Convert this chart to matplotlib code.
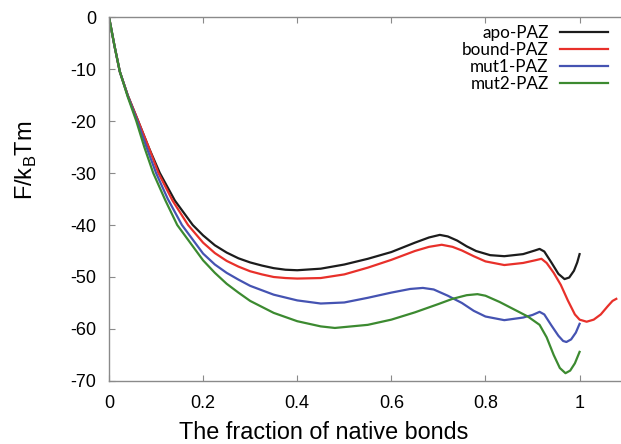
import numpy as np
import matplotlib
matplotlib.use('Agg')
import matplotlib.pyplot as plt

#--------------------------------------------------------------------------------------------------------------------------------
# Data
#--------------------------------------------------------------------------------------------------------------------------------

series_names = ['apo-PAZ', 'bound-PAZ', 'mut1-PAZ', 'mut2-PAZ']

apo_x = [0, 0.012, 0.023, 0.04, 0.062, 0.085, 0.108, 0.14, 0.178, 0.2, 0.225, 0.25, 0.275, 0.3, 0.325, 0.35,
         0.375, 0.4, 0.45, 0.5, 0.55, 0.6, 0.65, 0.68, 0.703, 0.72, 0.74, 0.76, 0.78, 0.81, 0.84, 0.88, 0.905,
         0.915, 0.925, 0.94, 0.955, 0.968, 0.978, 0.988, 0.995, 1.0]
apo_y = [0, -5.7, -10.5, -15.1, -20, -25.2, -30, -35.3, -40, -42, -43.9, -45.3, -46.4, -47.2, -47.8, -48.3,
         -48.6, -48.7, -48.4, -47.6, -46.5, -45.2, -43.4, -42.4, -41.9, -42.2, -43, -44.1, -45, -45.8, -46, -45.6, -44.9,
         -44.6, -45.1, -47.2, -49.4, -50.4, -50.1, -48.8, -47.2, -45.6]

bound_x = [0, 0.012, 0.023, 0.04, 0.062, 0.085, 0.105, 0.135, 0.168, 0.2, 0.225, 0.25, 0.275, 0.3, 0.325, 0.35,
           0.375, 0.4, 0.45, 0.5, 0.55, 0.6, 0.65, 0.68, 0.707, 0.73, 0.75, 0.775, 0.8, 0.84, 0.88, 0.905, 0.919,
           0.93, 0.945, 0.96, 0.975, 0.99, 1.0, 1.015, 1.03, 1.045, 1.06, 1.07, 1.078]
bound_y = [0, -5.7, -10.5, -15.1, -20, -25.2, -30, -35.3, -40, -43.4, -45.4, -46.9, -48, -48.9, -49.5, -50,
           -50.2, -50.3, -50.2, -49.5, -48.2, -46.7, -45, -44.2, -43.8, -44.2, -44.9, -46, -47, -47.7, -47.3, -46.8, -46.5,
           -47.3, -49.2, -51.5, -54.5, -57.2, -58.2, -58.6, -58.2, -57.2, -55.6, -54.6, -54.2]

mut1_x = [0, 0.012, 0.023, 0.04, 0.06, 0.08, 0.1, 0.125, 0.155, 0.2, 0.225, 0.25, 0.275, 0.3, 0.35, 0.4,
          0.45, 0.5, 0.55, 0.6, 0.64, 0.667, 0.69, 0.72, 0.75, 0.775, 0.8, 0.84, 0.88, 0.9, 0.915, 0.925,
          0.94, 0.955, 0.965, 0.972, 0.982, 0.992, 1.0]
mut1_y = [0, -5.7, -10.5, -15.2, -20, -25.1, -30, -35, -40, -45.5, -47.6, -49.2, -50.5, -51.7, -53.4, -54.5,
          -55.1, -54.9, -54, -53, -52.3, -52.1, -52.4, -53.6, -55, -56.5, -57.6, -58.3, -57.8, -57.3, -56.7, -57.2,
          -59.3, -61.3, -62.3, -62.5, -62, -60.7, -59]

mut2_x = [0, 0.012, 0.023, 0.04, 0.058, 0.075, 0.094, 0.12, 0.145, 0.2, 0.225, 0.25, 0.275, 0.3, 0.35, 0.4,
          0.45, 0.48, 0.55, 0.6, 0.65, 0.7, 0.73, 0.76, 0.783, 0.8, 0.83, 0.86, 0.89, 0.915, 0.93, 0.945,
          0.958, 0.97, 0.98, 0.99, 1.0]
mut2_y = [0, -5.7, -10.5, -15.4, -20, -25, -30, -35.3, -40, -46.8, -49.2, -51.3, -53, -54.6, -56.9, -58.5,
          -59.5, -59.8, -59.2, -58.2, -56.8, -55.2, -54.2, -53.5, -53.3, -53.6, -54.8, -56.2, -57.6, -59.2, -61.6, -65,
          -67.5, -68.5, -68, -66.6, -64.4]

x_ticks = [0, 0.2, 0.4, 0.6, 0.8, 1.0]
x_tick_labels = ['0', '0.2', '0.4', '0.6', '0.8', '1']
y_ticks = [0, -10, -20, -30, -40, -50, -60, -70]

#--------------------------------------------------------------------------------------------------------------------------------
# Plot
#--------------------------------------------------------------------------------------------------------------------------------

plt.rcParams['font.family'] = ['Liberation Sans', 'DejaVu Sans']
plt.rcParams['axes.unicode_minus'] = False

fig = plt.figure(figsize=(6.21, 4.44), dpi=100)
ax = fig.add_axes([0.1755, 0.1419, 0.8245, 0.8198])

colors = ['#1c1c1c', '#e8302a', '#4553b2', '#3c8a30']
all_x = [apo_x, bound_x, mut1_x, mut2_x]
all_y = [apo_y, bound_y, mut1_y, mut2_y]

for xs, ys, name, c in zip(all_x, all_y, series_names, colors):
    ax.plot(xs, ys, color=c, lw=1.6, label=name, solid_joinstyle='round')

ax.set_xlim(0, 1.088)
ax.set_ylim(-70, 0)
ax.set_xticks(x_ticks)
ax.set_xticklabels(x_tick_labels)
ax.set_yticks(y_ticks)

for side in ['left', 'bottom', 'top']:
    ax.spines[side].set_color('#8a8a8a')
    ax.spines[side].set_linewidth(1.0)
ax.spines['right'].set_visible(False)

ax.tick_params(direction='in', length=4, color='#8a8a8a', labelsize=13, top=True)
ax.tick_params(axis='x', pad=10)
ax.tick_params(axis='y', pad=9)

ax.set_xlabel('The fraction of native bonds', fontsize=16.8)
ax.set_ylabel('F/k$_\\mathregular{B}$Tm', fontsize=17)
ax.xaxis.set_label_coords(0.42, -0.11)
ax.yaxis.set_label_coords(-0.137, 0.607)

leg = ax.legend(loc='upper right', bbox_to_anchor=(0.994, 1.007), frameon=False, markerfirst=False,
                handlelength=2.8, handletextpad=0.66, labelspacing=0.06, borderaxespad=0.2,
                prop={'family': 'Lato', 'size': 12.3})
for t in leg.get_texts():
    t.set_ha('right')

fig.savefig('out.png', dpi=100)
